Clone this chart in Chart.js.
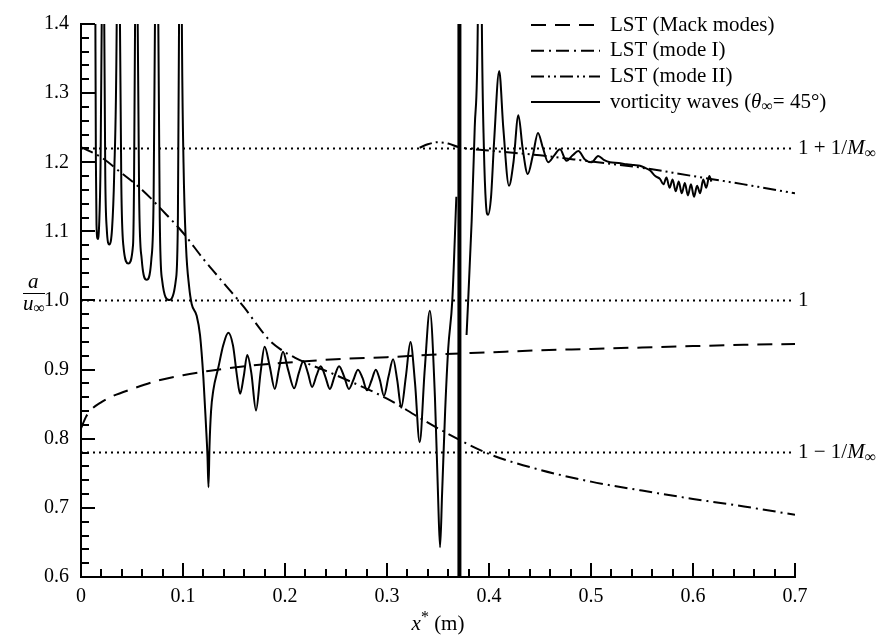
<!DOCTYPE html>
<html>
<head>
<meta charset="utf-8">
<script src="https://cdn.jsdelivr.net/npm/chart.js@4.4.1/dist/chart.umd.min.js"></script>
<style>
html, body { margin: 0; padding: 0; background: #fff; }
#wrap { width: 883px; height: 638px; }
</style>
</head>
<body>
<div id="wrap"><canvas id="chart" width="883" height="638"></canvas></div>
<script>
// axis ticks
const xTicks = [0, 0.1, 0.2, 0.3, 0.4, 0.5, 0.6, 0.7];
const yTicks = [0.6, 0.7, 0.8, 0.9, 1.0, 1.1, 1.2, 1.3, 1.4];

// reference levels (dotted) and their labels
const refLevels = [1.22, 1.0, 0.78];
const refLabels = ["1 + 1/M", "1", "1 \u2212 1/M"];

// LST (Mack modes), dashed
const mackX = [0, 0.005, 0.01, 0.02, 0.03, 0.05, 0.075, 0.1, 0.125, 0.15, 0.175, 0.2, 0.25, 0.3, 0.35, 0.4, 0.45, 0.5, 0.55, 0.6, 0.65, 0.7];
const mackY = [0.815, 0.832, 0.842, 0.853, 0.861, 0.872, 0.884, 0.892, 0.898, 0.903, 0.907, 0.91, 0.915, 0.918, 0.922, 0.925, 0.928, 0.93, 0.932, 0.934, 0.936, 0.937];

// LST (mode I), dash-dot
const modeIX = [0, 0.02, 0.04, 0.06, 0.08, 0.1, 0.12, 0.14, 0.16, 0.175, 0.185, 0.195, 0.21, 0.25, 0.3, 0.33, 0.35, 0.4, 0.45, 0.5, 0.55, 0.6, 0.65, 0.7];
const modeIY = [1.222, 1.207, 1.184, 1.16, 1.13, 1.098, 1.06, 1.025, 0.99, 0.96, 0.942, 0.93, 0.917, 0.892, 0.858, 0.832, 0.815, 0.778, 0.755, 0.738, 0.725, 0.713, 0.702, 0.69];

// LST (mode II), dash-dot-dot
const modeIIX = [0.332, 0.34, 0.35, 0.36, 0.37, 0.4, 0.45, 0.5, 0.55, 0.6, 0.65, 0.7];
const modeIIY = [1.221, 1.226, 1.229, 1.227, 1.222, 1.217, 1.21, 1.201, 1.192, 1.18, 1.168, 1.155];

// vorticity waves, solid (null = break)
const vortX = [
  0.0140, 0.0146, 0.0152, 0.0164, 0.0178, 0.0192, 0.0203, 0.0215,
  0.0228, 0.0238, 0.0252, 0.0278, 0.0305, 0.0325, 0.0350, 0.0366,
  0.0382, 0.0395, 0.0415, 0.0464, 0.0510, 0.0520, 0.0530, 0.0543,
  0.0556, 0.0570, 0.0595, 0.0644, 0.0690, 0.0712, 0.0725, 0.0742,
  0.0758, 0.0772, 0.0795, 0.0866, 0.0930, 0.0950, 0.0961, 0.0975,
  0.0989, 0.1005, 0.103, 0.106, 0.1085, 0.1134, 0.1167, 0.120, 0.1225, 0.124, 0.125, 0.126, 0.1275, 0.1297,
  0.1346, 0.1395, 0.1444, 0.149, 0.153, 0.156, 0.1595, 0.163, 0.167, 0.1716, 0.176, 0.180, 0.185, 0.190,
  0.194, 0.198, 0.203, 0.209, 0.2135, 0.218, 0.2225, 0.2265, 0.231, 0.235, 0.2395, 0.244, 0.2485, 0.253,
  0.258, 0.2627, 0.267, 0.2715, 0.276, 0.2804, 0.285, 0.289, 0.293, 0.297, 0.3015, 0.306, 0.310, 0.314,
  0.3185, 0.323, 0.3275, 0.332, 0.337, 0.342, 0.347, 0.350, 0.352, 0.354, 0.357, 0.360, 0.364, 0.368,
  0.369,
  0.378, 0.383, 0.386, 0.389, 0.391, 0.393, 0.395, 0.397, 0.399, 0.402, 0.405, 0.410, 0.414, 0.4196,
  0.424, 0.4288, 0.433, 0.438, 0.443, 0.448, 0.453, 0.458, 0.464, 0.4696, 0.476, 0.482, 0.4876, 0.494,
  0.5007, 0.507, 0.513, 0.5186, 0.527, 0.535, 0.542, 0.548, 0.553, 0.558, 0.563, 0.5676, 0.571, 0.574,
  0.577, 0.580, 0.583, 0.586, 0.589, 0.592, 0.595, 0.598, 0.601, 0.604, 0.607, 0.610, 0.613, 0.616, 0.618
];
const vortY = [
  1.45, 1.2, 1.11, 1.089, 1.11, 1.2, 1.4, 1.9,
  1.4, 1.18, 1.105, 1.081, 1.105, 1.18, 1.4, 1.9,
  1.4, 1.17, 1.08, 1.0535, 1.08, 1.17, 1.4, 1.9,
  1.4, 1.15, 1.06, 1.03, 1.06, 1.15, 1.4, 1.9,
  1.4, 1.12, 1.03, 1.0007, 1.03, 1.12, 1.4, 1.9,
  1.4, 1.2, 1.077, 1.02, 0.995, 0.978, 0.95, 0.888, 0.82, 0.775, 0.73, 0.79, 0.84, 0.87,
  0.9026, 0.9356, 0.9535, 0.935, 0.89, 0.865, 0.89, 0.921, 0.895, 0.841, 0.895, 0.933, 0.905, 0.872,
  0.9, 0.926, 0.9, 0.873, 0.895, 0.912, 0.895, 0.875, 0.892, 0.905, 0.89, 0.872, 0.89, 0.905,
  0.89, 0.872, 0.885, 0.9, 0.888, 0.87, 0.885, 0.9, 0.885, 0.862, 0.89, 0.915, 0.885, 0.845,
  0.89, 0.94, 0.88, 0.795, 0.9, 0.985, 0.86, 0.72, 0.643, 0.72, 0.84, 0.93, 1.0, 1.15,
  null,
  0.95, 1.115, 1.25, 1.4, 1.9, 1.4, 1.22, 1.14, 1.124, 1.15, 1.23, 1.332, 1.25, 1.166,
  1.2, 1.268, 1.22, 1.183, 1.21, 1.2424, 1.22, 1.2, 1.21, 1.2188, 1.202, 1.21, 1.2163, 1.204,
  1.2, 1.209, 1.203, 1.2, 1.199, 1.197, 1.196, 1.195, 1.192, 1.188, 1.18, 1.176, 1.168, 1.178,
  1.163, 1.175, 1.158, 1.172, 1.155, 1.17, 1.152, 1.168, 1.15, 1.166, 1.155, 1.175, 1.163, 1.18, 1.172
];

// singular line of the vorticity waves
const jumpX = [0.371, 0.371];
const jumpY = [0.6, 1.4];

const serif = "'Liberation Serif', 'Times New Roman', serif";

function pts(xs, ys) {
    return xs.map((x, i) => ({ x: x, y: ys[i] }));
}

function drawPieces(ctx, x, y, pieces) {
    // pieces: [text, font, dy]
    ctx.textBaseline = "middle";
    ctx.textAlign = "left";
    pieces.forEach(p => {
        ctx.font = p[1];
        ctx.fillText(p[0], x, y + (p[2] || 0));
        x += ctx.measureText(p[0]).width;
    });
}

const decorPlugin = {
    id: "decor",
    afterDraw(chart) {
        const ctx = chart.ctx;
        const xs = chart.scales.x;
        const ys = chart.scales.y;
        const a = chart.chartArea;
        ctx.save();
        ctx.strokeStyle = "#000";
        ctx.fillStyle = "#000";

        // inward ticks
        ctx.lineWidth = 2;
        for (let i = 0; i <= 40; i++) {
            const v = 0.6 + i * 0.02;
            const py = Math.round(ys.getPixelForValue(v));
            const len = i % 5 === 0 ? 14 : 8;
            ctx.beginPath();
            ctx.moveTo(a.left, py);
            ctx.lineTo(a.left + len, py);
            ctx.stroke();
        }
        for (let i = 0; i <= 35; i++) {
            const v = i * 0.02;
            const px = Math.round(xs.getPixelForValue(v));
            const len = i % 5 === 0 ? 14 : 8;
            ctx.beginPath();
            ctx.moveTo(px, a.bottom);
            ctx.lineTo(px, a.bottom - len);
            ctx.stroke();
        }

        // labels for reference levels
        const big = "21px " + serif;
        const ital = "italic 21px " + serif;
        const sub = "16px " + serif;
        refLevels.forEach((lv, i) => {
            const py = ys.getPixelForValue(lv);
            const lx = a.right + 3;
            if (i === 1) {
                drawPieces(ctx, lx, py, [[refLabels[i], big]]);
            } else {
                drawPieces(ctx, lx, py, [[refLabels[i].replace("M", ""), big], ["M", ital], ["\u221e", sub, 5]]);
            }
        });

        // legend
        const legend = [
            ["LST (Mack modes)", [15, 9]],
            ["LST (mode I)", [13, 5, 2, 5]],
            ["LST (mode II)", [13, 4, 2, 4, 2, 4]],
            [null, []]
        ];
        const lx0 = 531, lx1 = 600, tx = 610;
        legend.forEach((item, i) => {
            const py = 25 + i * 25.7;
            ctx.setLineDash(item[1]);
            ctx.lineWidth = 2;
            ctx.beginPath();
            ctx.moveTo(lx0, py);
            ctx.lineTo(lx1, py);
            ctx.stroke();
            ctx.setLineDash([]);
            if (item[0]) {
                drawPieces(ctx, tx, py, [[item[0], big]]);
            } else {
                drawPieces(ctx, tx, py, [
                    ["vorticity waves (", big],
                    ["\u03b8", ital],
                    ["\u221e", sub, 5],
                    ["= 45\u00b0)", big]
                ]);
            }
        });

        // y title: a / u_inf
        drawPieces(ctx, 28, 282, [["a", ital]]);
        ctx.lineWidth = 1;
        ctx.beginPath();
        ctx.moveTo(23, 293.5);
        ctx.lineTo(45, 293.5);
        ctx.stroke();
        drawPieces(ctx, 23, 304, [["u", ital], ["\u221e", sub, 5]]);

        // x title
        const cx = (a.left + a.right) / 2;
        ctx.font = ital;
        const w1 = ctx.measureText("x").width;
        ctx.font = sub;
        const w2 = ctx.measureText("*").width;
        ctx.font = big;
        const w3 = ctx.measureText(" (m)").width;
        drawPieces(ctx, cx - (w1 + w2 + w3) / 2, 624, [["x", ital], ["*", sub, -6], [" (m)", big]]);

        ctx.restore();
    }
};

const refDatasets = refLevels.map(lv => ({
    data: [{ x: 0, y: lv }, { x: 0.7, y: lv }],
    borderColor: "#000",
    borderWidth: 2,
    borderDash: [2, 4],
    pointRadius: 0,
    tension: 0
}));

new Chart(document.getElementById("chart").getContext("2d"), {
    type: "line",
    data: {
        datasets: refDatasets.concat([
            {
                label: "LST (Mack modes)",
                data: pts(mackX, mackY),
                borderColor: "#000",
                borderWidth: 2,
                borderDash: [15, 9],
                pointRadius: 0,
                cubicInterpolationMode: "monotone"
            },
            {
                label: "LST (mode I)",
                data: pts(modeIX, modeIY),
                borderColor: "#000",
                borderWidth: 2,
                borderDash: [13, 5, 2, 5],
                pointRadius: 0,
                cubicInterpolationMode: "monotone"
            },
            {
                label: "LST (mode II)",
                data: pts(modeIIX, modeIIY),
                borderColor: "#000",
                borderWidth: 2,
                borderDash: [13, 4, 2, 4, 2, 4],
                pointRadius: 0,
                cubicInterpolationMode: "monotone"
            },
            {
                label: "vorticity waves",
                data: pts(vortX, vortY),
                borderColor: "#000",
                borderWidth: 2,
                pointRadius: 0,
                spanGaps: false,
                cubicInterpolationMode: "monotone"
            },
            {
                label: "jump",
                data: pts(jumpX, jumpY),
                borderColor: "#000",
                borderWidth: 4,
                pointRadius: 0
            }
        ])
    },
    options: {
        responsive: false,
        animation: false,
        events: [],
        layout: { padding: { left: 0, right: 88, top: 12, bottom: 0 } },
        plugins: {
            legend: { display: false },
            tooltip: { enabled: false }
        },
        scales: {
            x: {
                type: "linear",
                min: 0,
                max: 0.7,
                afterFit: s => { s.height = 61; },
                afterBuildTicks: s => { s.ticks = xTicks.map(v => ({ value: v })); },
                grid: { display: false, drawTicks: false },
                border: { display: true, color: "#000", width: 2 },
                ticks: {
                    color: "#000",
                    padding: 8,
                    maxRotation: 0,
                    font: { family: serif, size: 20 },
                    callback: v => (v === 0 ? "0" : v.toFixed(1))
                }
            },
            y: {
                type: "linear",
                min: 0.6,
                max: 1.4,
                afterFit: s => { s.width = 81; },
                afterBuildTicks: s => { s.ticks = yTicks.map(v => ({ value: v })); },
                grid: { display: false, drawTicks: false },
                border: { display: true, color: "#000", width: 2 },
                ticks: {
                    color: "#000",
                    padding: 12,
                    font: { family: serif, size: 20 },
                    callback: v => v.toFixed(1)
                }
            }
        }
    },
    plugins: [decorPlugin]
});
</script>
</body>
</html>
